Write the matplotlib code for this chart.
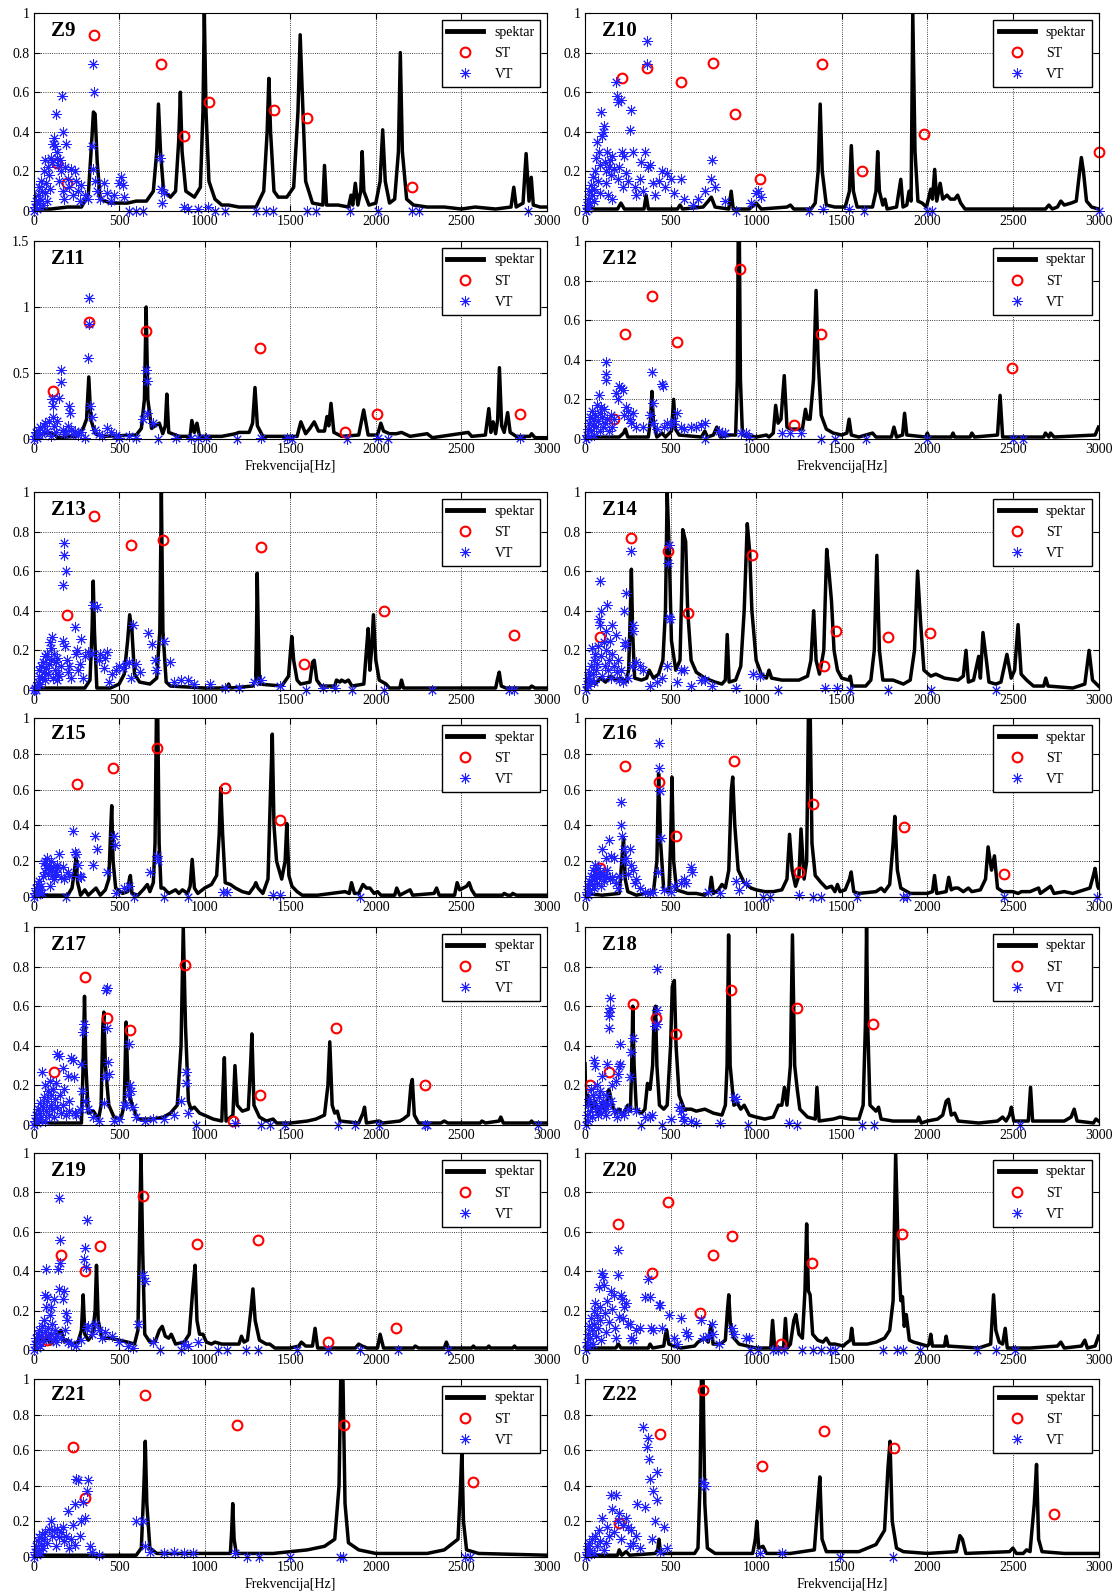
import matplotlib.pyplot as plt
from matplotlib.ticker import MultipleLocator, FuncFormatter

plt.rcParams['font.family'] = ['Liberation Serif', 'DejaVu Serif']

# spectrum vertices (Hz, amplitude), ST and VT points, one set per panel
z9_spec = [(0,0.10),(15,0.01),(100,0.01),(200,0.02),(280,0.02),(320,0.08),(340,0.35),(350,0.50),(360,0.49),(372,0.25),(390,0.06),(450,0.04),(550,0.04),(600,0.05),(660,0.05),(700,0.1),(720,0.3),(730,0.54),(742,0.3),(760,0.1),(800,0.07),(830,0.1),(848,0.35),(858,0.60),(868,0.3),(890,0.1),(940,0.07),(975,0.12),(990,0.5),(998,1.0),(1008,0.5),(1025,0.15),(1060,0.06),(1100,0.03),(1140,0.03),(1200,0.02),(1300,0.02),(1345,0.1),(1365,0.4),(1375,0.67),(1385,0.4),(1405,0.1),(1430,0.07),(1480,0.07),(1520,0.12),(1545,0.5),(1558,0.89),(1570,0.6),(1590,0.15),(1630,0.04),(1690,0.03),(1700,0.23),(1712,0.03),(1780,0.03),(1840,0.02),(1855,0.08),(1865,0.03),(1880,0.14),(1895,0.03),(1912,0.1),(1920,0.30),(1930,0.1),(1960,0.03),(2000,0.04),(2025,0.15),(2040,0.41),(2055,0.15),(2080,0.04),(2110,0.06),(2132,0.3),(2143,0.80),(2155,0.3),(2180,0.06),(2220,0.03),(2300,0.02),(2400,0.02),(2500,0.01),(2580,0.02),(2700,0.01),(2790,0.02),(2806,0.12),(2820,0.02),(2860,0.04),(2878,0.29),(2895,0.05),(2908,0.17),(2920,0.03),(2960,0.02),(3000,0.02)]
z9_st = [(138,0.24),(196,0.14),(355,0.89),(743,0.74),(879,0.38),(1025,0.55),(1403,0.51),(1597,0.47),(2213,0.12)]
z9_vt = [(5,0.0),(10,0.02),(15,0.05),(20,0.01),(25,0.08),(30,0.04),(35,0.12),(40,0.06),(45,0.15),(50,0.1),(55,0.03),(60,0.2),(65,0.09),(70,0.26),(75,0.14),(80,0.05),(85,0.22),(90,0.18),(95,0.11),(100,0.27),(110,0.25),(115,0.34),(120,0.37),(125,0.33),(130,0.49),(135,0.3),(140,0.27),(145,0.23),(150,0.15),(155,0.26),(160,0.2),(168,0.58),(170,0.1),(175,0.4),(180,0.06),(185,0.22),(190,0.34),(200,0.16),(210,0.12),(220,0.21),(230,0.08),(240,0.2),(250,0.15),(260,0.1),(270,0.05),(280,0.13),(300,0.08),(320,0.06),(340,0.33),(345,0.21),(350,0.74),(355,0.6),(360,0.15),(370,0.1),(390,0.06),(410,0.14),(430,0.09),(450,0.05),(470,0.08),(500,0.14),(510,0.17),(520,0.13),(530,0.07),(560,0.0),(600,0.0),(640,0.0),(740,0.27),(745,0.11),(750,0.04),(760,0.09),(880,0.02),(900,0.01),(960,0.01),(1020,0.02),(1060,0.0),(1120,0.0),(1300,0.0),(1360,0.0),(1400,0.0),(1600,0.0),(1650,0.0),(1850,0.0),(2010,0.0),(2210,0.0),(2250,0.0),(2890,0.0)]

z10_spec = [(0,0.02),(50,0.01),(190,0.01),(210,0.04),(230,0.01),(345,0.01),(357,0.08),(370,0.01),(540,0.01),(555,0.03),(570,0.01),(690,0.02),(720,0.05),(738,0.07),(760,0.02),(840,0.01),(854,0.10),(866,0.01),(960,0.01),(1000,0.04),(1030,0.01),(1180,0.02),(1200,0.03),(1220,0.01),(1320,0.01),(1345,0.04),(1362,0.2),(1374,0.54),(1386,0.2),(1410,0.03),(1460,0.02),(1520,0.02),(1545,0.1),(1556,0.33),(1568,0.1),(1590,0.02),(1680,0.02),(1700,0.1),(1710,0.30),(1720,0.1),(1740,0.03),(1752,0.06),(1765,0.01),(1820,0.02),(1845,0.16),(1858,0.02),(1880,0.03),(1893,0.1),(1905,0.05),(1915,1.0),(1928,0.3),(1945,0.05),(1970,0.04),(1995,0.02),(2020,0.11),(2030,0.06),(2043,0.21),(2055,0.05),(2075,0.14),(2090,0.06),(2115,0.08),(2135,0.06),(2160,0.06),(2177,0.08),(2195,0.04),(2220,0.01),(2500,0.01),(2690,0.01),(2710,0.03),(2730,0.01),(2760,0.02),(2780,0.05),(2800,0.03),(2840,0.04),(2870,0.05),(2890,0.2),(2900,0.27),(2912,0.2),(2930,0.05),(2960,0.02),(3000,0.01)]
z10_st = [(214,0.67),(363,0.72),(560,0.65),(745,0.75),(875,0.49),(1022,0.16),(1384,0.74),(1620,0.2),(1978,0.39),(3000,0.30)]
z10_vt = [(5,0.0),(10,0.03),(15,0.06),(20,0.01),(25,0.1),(30,0.04),(35,0.13),(40,0.08),(45,0.17),(50,0.11),(55,0.05),(60,0.2),(65,0.27),(70,0.35),(75,0.15),(80,0.3),(85,0.09),(90,0.23),(95,0.5),(100,0.38),(105,0.4),(110,0.43),(115,0.25),(120,0.2),(125,0.14),(130,0.3),(135,0.08),(140,0.22),(145,0.26),(150,0.18),(155,0.06),(160,0.28),(170,0.21),(180,0.65),(185,0.58),(190,0.55),(195,0.16),(200,0.22),(210,0.56),(215,0.3),(220,0.12),(230,0.28),(240,0.19),(250,0.15),(260,0.41),(270,0.51),(280,0.3),(290,0.12),(300,0.08),(320,0.16),(330,0.25),(340,0.1),(350,0.3),(360,0.86),(362,0.74),(370,0.22),(380,0.23),(400,0.14),(410,0.08),(430,0.15),(450,0.2),(470,0.12),(480,0.19),(500,0.16),(520,0.09),(560,0.16),(580,0.06),(630,0.03),(660,0.06),(700,0.1),(740,0.26),(735,0.16),(760,0.12),(820,0.05),(880,0.0),(970,0.04),(1000,0.09),(1010,0.1),(1030,0.07),(1310,0.0),(1390,0.01),(1540,0.01),(1630,0.0),(2000,0.0),(2030,0.0),(3000,0.0)]

z11_spec = [(0,0.03),(20,0.01),(30,0.04),(120,0.04),(140,0.01),(250,0.02),(290,0.08),(310,0.15),(323,0.47),(335,0.15),(360,0.04),(400,0.02),(600,0.03),(630,0.08),(648,0.3),(658,1.0),(668,0.3),(690,0.08),(720,0.11),(735,0.12),(755,0.04),(770,0.1),(779,0.34),(790,0.05),(850,0.02),(915,0.02),(925,0.14),(940,0.05),(955,0.12),(970,0.02),(1100,0.02),(1180,0.04),(1200,0.05),(1260,0.05),(1280,0.12),(1294,0.39),(1308,0.1),(1340,0.02),(1540,0.02),(1562,0.13),(1590,0.04),(1615,0.08),(1640,0.13),(1665,0.06),(1700,0.06),(1715,0.17),(1725,0.1),(1738,0.27),(1755,0.05),(1800,0.02),(1900,0.03),(1929,0.22),(1955,0.03),(2010,0.03),(2029,0.12),(2045,0.06),(2080,0.04),(2120,0.04),(2150,0.05),(2200,0.02),(2300,0.04),(2330,0.01),(2540,0.05),(2560,0.02),(2640,0.03),(2660,0.23),(2672,0.05),(2685,0.13),(2700,0.04),(2712,0.15),(2722,0.54),(2735,0.1),(2750,0.05),(2770,0.2),(2785,0.05),(2820,0.02),(2900,0.02),(2910,0.04),(2930,0.01),(3000,0.01)]
z11_st = [(115,0.36),(326,0.89),(660,0.82),(1321,0.69),(1822,0.05),(2006,0.19),(2840,0.19)]
z11_vt = [(5,0.0),(10,0.02),(15,0.05),(20,0.01),(25,0.07),(30,0.03),(40,0.09),(50,0.04),(60,0.1),(70,0.12),(80,0.06),(90,0.14),(100,0.02),(110,0.3),(112,0.25),(115,0.17),(120,0.1),(130,0.05),(140,0.14),(150,0.31),(160,0.52),(162,0.43),(170,0.07),(180,0.04),(190,0.06),(200,0.1),(210,0.25),(212,0.2),(220,0.07),(230,0.04),(240,0.06),(260,0.03),(280,0.05),(300,0.01),(325,1.07),(327,0.87),(320,0.61),(330,0.25),(340,0.17),(360,0.07),(380,0.04),(400,0.02),(430,0.08),(450,0.05),(480,0.03),(500,0.01),(560,0.02),(600,0.01),(640,0.15),(660,0.52),(662,0.44),(665,0.2),(700,0.12),(730,0.0),(830,0.01),(920,0.01),(960,0.01),(1010,0.01),(1190,0.0),(1330,0.01),(1480,0.01),(1510,0.0),(1830,0.0),(2010,0.01),(2070,0.0),(2840,0.01)]

z12_spec = [(0,0.01),(200,0.01),(225,0.03),(236,0.05),(250,0.01),(370,0.01),(383,0.1),(391,0.24),(400,0.08),(420,0.01),(450,0.03),(470,0.01),(505,0.04),(518,0.2),(528,0.05),(550,0.02),(680,0.01),(700,0.04),(715,0.01),(750,0.02),(770,0.06),(790,0.01),(850,0.02),(880,0.02),(890,0.3),(895,1.0),(902,1.0),(908,0.3),(920,0.02),(1000,0.01),(1060,0.02),(1075,0.01),(1100,0.03),(1114,0.17),(1128,0.08),(1145,0.1),(1164,0.32),(1180,0.06),(1200,0.05),(1240,0.05),(1270,0.05),(1288,0.15),(1300,0.1),(1315,0.1),(1335,0.3),(1350,0.75),(1362,0.4),(1380,0.12),(1410,0.05),(1450,0.03),(1500,0.02),(1530,0.03),(1543,0.1),(1556,0.02),(1600,0.01),(1680,0.03),(1700,0.01),(1790,0.01),(1805,0.06),(1820,0.01),(1855,0.02),(1867,0.13),(1880,0.02),(1990,0.01),(2000,0.03),(2010,0.01),(2140,0.01),(2150,0.03),(2160,0.01),(2250,0.01),(2260,0.03),(2275,0.01),(2410,0.02),(2425,0.22),(2440,0.01),(2680,0.01),(2690,0.03),(2710,0.01),(2720,0.03),(2740,0.01),(2980,0.02),(3000,0.06)]
z12_st = [(167,0.1),(236,0.53),(391,0.72),(537,0.49),(903,0.86),(1221,0.07),(1380,0.53),(2492,0.36)]
z12_vt = [(5,0.0),(10,0.02),(15,0.05),(20,0.01),(25,0.08),(30,0.11),(35,0.04),(40,0.14),(45,0.07),(50,0.1),(55,0.02),(60,0.12),(65,0.06),(70,0.17),(75,0.09),(80,0.22),(85,0.13),(90,0.04),(95,0.16),(100,0.11),(105,0.06),(110,0.15),(115,0.08),(120,0.39),(121,0.33),(122,0.3),(130,0.1),(140,0.04),(150,0.12),(160,0.06),(170,0.1),(180,0.23),(190,0.2),(200,0.27),(210,0.26),(220,0.25),(230,0.12),(240,0.16),(250,0.14),(260,0.1),(270,0.08),(280,0.13),(300,0.06),(340,0.06),(380,0.12),(390,0.34),(395,0.18),(400,0.08),(420,0.05),(450,0.28),(455,0.27),(460,0.06),(480,0.08),(500,0.07),(520,0.09),(540,0.13),(560,0.06),(580,0.05),(620,0.06),(650,0.06),(680,0.07),(700,0.08),(702,0.0),(780,0.04),(800,0.03),(820,0.03),(910,0.03),(940,0.03),(960,0.01),(1150,0.03),(1200,0.03),(1260,0.03),(1380,0.0),(1460,0.0),(1640,0.0),(2000,0.0),(2500,0.0),(2560,0.0)]

z13_spec = [(0,0.04),(15,0.01),(300,0.01),(330,0.05),(342,0.3),(349,0.55),(356,0.3),(370,0.01),(450,0.01),(500,0.03),(530,0.08),(550,0.25),(562,0.38),(575,0.3),(590,0.08),(620,0.04),(680,0.03),(720,0.06),(738,0.3),(747,1.0),(756,0.3),(775,0.04),(800,0.02),(1000,0.01),(1130,0.01),(1140,0.03),(1150,0.01),(1280,0.02),(1298,0.05),(1303,0.3),(1307,0.59),(1313,0.3),(1320,0.03),(1450,0.02),(1490,0.07),(1502,0.2),(1509,0.27),(1520,0.15),(1540,0.05),(1560,0.03),(1615,0.04),(1630,0.14),(1640,0.15),(1655,0.05),(1680,0.02),(1760,0.02),(1770,0.05),(1790,0.04),(1800,0.05),(1820,0.04),(1840,0.05),(1860,0.02),(1930,0.03),(1945,0.2),(1955,0.31),(1965,0.1),(1975,0.2),(1986,0.38),(2000,0.15),(2020,0.05),(2060,0.03),(2080,0.01),(2140,0.01),(2150,0.05),(2162,0.01),(2400,0.01),(2700,0.01),(2712,0.06),(2721,0.09),(2733,0.02),(2760,0.01),(2900,0.01),(2910,0.02),(2930,0.01),(3000,0.01)]
z13_st = [(194,0.38),(351,0.88),(570,0.73),(758,0.76),(1330,0.72),(1583,0.13),(2046,0.4),(2806,0.28)]
z13_vt = [(5,0.0),(10,0.01),(15,0.0),(20,0.02),(25,0.04),(30,0.07),(35,0.1),(40,0.03),(45,0.12),(50,0.06),(55,0.14),(60,0.09),(65,0.17),(70,0.05),(75,0.11),(80,0.18),(85,0.08),(90,0.13),(95,0.24),(100,0.21),(105,0.15),(110,0.27),(115,0.06),(120,0.18),(125,0.1),(130,0.14),(135,0.05),(140,0.16),(145,0.08),(150,0.07),(160,0.12),(170,0.25),(175,0.53),(178,0.74),(180,0.68),(185,0.22),(190,0.6),(195,0.15),(200,0.09),(210,0.12),(220,0.06),(240,0.32),(250,0.18),(255,0.2),(260,0.1),(270,0.13),(280,0.26),(290,0.06),(300,0.17),(320,0.19),(340,0.18),(350,0.43),(370,0.42),(380,0.15),(390,0.18),(410,0.11),(420,0.16),(430,0.19),(440,0.04),(460,0.08),(480,0.1),(500,0.12),(520,0.11),(540,0.13),(560,0.14),(570,0.06),(580,0.33),(600,0.13),(620,0.09),(670,0.29),(690,0.23),(710,0.15),(715,0.1),(760,0.25),(800,0.14),(820,0.04),(860,0.05),(900,0.05),(940,0.03),(1030,0.03),(1120,0.01),(1200,0.01),(1290,0.04),(1330,0.05),(1440,0.02),(1590,0.0),(1690,0.01),(1760,0.01),(1860,0.0),(2050,0.0),(2330,0.0),(2780,0.0),(2810,0.0)]

z14_spec = [(0,0.08),(10,0.02),(30,0.05),(60,0.03),(90,0.06),(120,0.04),(150,0.07),(180,0.05),(210,0.06),(240,0.04),(255,0.1),(265,0.4),(271,0.61),(278,0.3),(290,0.06),(330,0.05),(360,0.06),(375,0.1),(400,0.06),(430,0.08),(455,0.15),(470,0.4),(480,1.0),(492,0.7),(505,0.25),(530,0.1),(555,0.15),(565,0.5),(571,0.81),(588,0.75),(600,0.4),(620,0.15),(650,0.09),(700,0.06),(760,0.04),(800,0.03),(820,0.05),(831,0.28),(842,0.04),(880,0.05),(910,0.12),(930,0.4),(948,0.84),(962,0.7),(975,0.4),(1000,0.15),(1030,0.08),(1060,0.06),(1075,0.1),(1090,0.06),(1150,0.05),(1200,0.05),(1250,0.05),(1300,0.07),(1320,0.15),(1336,0.4),(1350,0.15),(1370,0.08),(1395,0.2),(1412,0.71),(1425,0.6),(1440,0.45),(1455,0.2),(1475,0.1),(1500,0.06),(1540,0.05),(1550,0.07),(1560,0.02),(1640,0.02),(1670,0.05),(1690,0.2),(1705,0.68),(1720,0.2),(1740,0.05),(1800,0.05),(1860,0.03),(1900,0.05),(1925,0.2),(1943,0.6),(1960,0.35),(1980,0.1),(2020,0.07),(2050,0.08),(2100,0.06),(2180,0.05),(2210,0.07),(2226,0.2),(2240,0.04),(2270,0.05),(2300,0.17),(2310,0.06),(2325,0.29),(2345,0.15),(2360,0.04),(2400,0.03),(2430,0.04),(2445,0.1),(2465,0.18),(2490,0.06),(2510,0.1),(2530,0.33),(2548,0.08),(2580,0.05),(2620,0.02),(2680,0.02),(2692,0.06),(2705,0.02),(2850,0.01),(2920,0.03),(2945,0.2),(2965,0.05),(3000,0.02)]
z14_st = [(86,0.27),(271,0.77),(485,0.70),(602,0.39),(975,0.68),(1395,0.12),(1466,0.3),(1768,0.27),(2014,0.29)]
z14_vt = [(5,0.0),(10,0.03),(15,0.06),(20,0.02),(25,0.09),(30,0.05),(35,0.12),(40,0.21),(45,0.08),(50,0.15),(55,0.04),(60,0.18),(65,0.1),(70,0.13),(75,0.22),(80,0.36),(85,0.33),(90,0.55),(92,0.4),(95,0.17),(100,0.07),(110,0.24),(115,0.12),(120,0.2),(125,0.3),(130,0.43),(135,0.1),(140,0.15),(145,0.25),(150,0.06),(155,0.33),(160,0.18),(170,0.12),(180,0.28),(185,0.09),(190,0.15),(200,0.05),(210,0.1),(220,0.04),(230,0.4),(232,0.24),(235,0.22),(240,0.49),(250,0.06),(270,0.7),(272,0.12),(278,0.33),(282,0.3),(300,0.14),(320,0.12),(340,0.1),(380,0.02),(420,0.04),(450,0.06),(480,0.12),(485,0.64),(488,0.37),(490,0.73),(495,0.36),(540,0.04),(560,0.1),(580,0.1),(620,0.02),(680,0.05),(700,0.05),(740,0.02),(880,0.01),(980,0.08),(1020,0.07),(1130,0.0),(1400,0.01),(1470,0.01),(1550,0.0),(1770,0.0),(2020,0.0),(2400,0.0)]

z15_spec = [(0,0.01),(200,0.01),(225,0.05),(240,0.15),(248,0.22),(258,0.08),(275,0.01),(300,0.04),(320,0.01),(365,0.05),(390,0.01),(420,0.04),(440,0.1),(452,0.4),(457,0.51),(465,0.2),(480,0.05),(520,0.02),(550,0.03),(560,0.1),(566,0.12),(575,0.02),(610,0.01),(640,0.04),(665,0.07),(680,0.03),(700,0.08),(710,0.3),(718,1.0),(726,1.0),(734,0.3),(745,0.05),(760,0.05),(790,0.02),(830,0.04),(850,0.02),(870,0.04),(900,0.02),(915,0.06),(927,0.21),(940,0.05),(960,0.02),(1000,0.05),(1040,0.07),(1070,0.12),(1085,0.35),(1094,0.61),(1105,0.35),(1120,0.08),(1150,0.07),(1180,0.05),(1220,0.03),(1260,0.02),(1290,0.06),(1299,0.08),(1312,0.05),(1340,0.02),(1370,0.1),(1385,0.6),(1395,0.91),(1405,0.4),(1420,0.2),(1450,0.1),(1470,0.2),(1480,0.41),(1492,0.12),(1510,0.06),(1540,0.03),(1570,0.01),(1660,0.01),(1820,0.03),(1845,0.02),(1858,0.08),(1875,0.02),(1900,0.02),(1925,0.07),(1945,0.05),(1965,0.05),(1990,0.02),(2010,0.03),(2030,0.01),(2110,0.01),(2122,0.05),(2140,0.01),(2200,0.04),(2215,0.01),(2340,0.02),(2355,0.05),(2370,0.01),(2460,0.01),(2475,0.08),(2490,0.04),(2510,0.05),(2530,0.06),(2545,0.08),(2560,0.04),(2580,0.01),(2740,0.01),(2750,0.02),(2770,0.01),(2790,0.01),(2800,0.02),(2820,0.01),(3000,0.01)]
z15_st = [(255,0.63),(463,0.72),(724,0.83),(1117,0.61),(1438,0.43)]
z15_vt = [(5,0.0),(10,0.02),(15,0.05),(20,0.01),(25,0.07),(30,0.03),(35,0.09),(40,0.04),(45,0.06),(50,0.02),(55,0.12),(60,0.19),(65,0.14),(70,0.2),(75,0.16),(80,0.22),(85,0.13),(90,0.18),(95,0.06),(100,0.2),(105,0.15),(110,0.12),(115,0.17),(120,0.1),(125,0.14),(130,0.13),(135,0.16),(140,0.18),(150,0.24),(160,0.11),(170,0.17),(180,0.1),(190,0.0),(200,0.14),(210,0.12),(230,0.37),(240,0.25),(250,0.24),(260,0.18),(270,0.12),(280,0.11),(350,0.18),(360,0.34),(370,0.27),(430,0.14),(470,0.34),(475,0.29),(480,0.02),(530,0.05),(560,0.06),(590,0.0),(680,0.14),(720,0.23),(725,0.2),(760,0.0),(900,0.0),(1110,0.03),(1130,0.03),(1400,0.01),(1440,0.01),(1910,0.0)]

z16_spec = [(0,0.02),(100,0.01),(200,0.02),(215,0.2),(225,0.33),(235,0.1),(250,0.03),(300,0.01),(400,0.03),(420,0.2),(430,0.69),(442,0.3),(460,0.04),(490,0.03),(500,0.3),(508,0.67),(518,0.2),(535,0.04),(600,0.02),(650,0.02),(700,0.01),(728,0.03),(738,0.11),(750,0.02),(780,0.04),(800,0.07),(820,0.05),(840,0.15),(855,0.6),(863,0.67),(875,0.4),(895,0.15),(930,0.08),(970,0.05),(1000,0.04),(1050,0.03),(1100,0.03),(1150,0.04),(1180,0.1),(1195,0.35),(1210,0.15),(1230,0.06),(1250,0.12),(1262,0.38),(1280,0.1),(1295,0.2),(1305,1.0),(1316,1.0),(1326,0.3),(1345,0.12),(1380,0.08),(1410,0.05),(1440,0.06),(1460,0.03),(1475,0.07),(1490,0.03),(1520,0.04),(1545,0.1),(1555,0.14),(1570,0.03),(1600,0.02),(1700,0.03),(1730,0.05),(1750,0.03),(1780,0.07),(1800,0.3),(1810,0.45),(1825,0.15),(1845,0.05),(1900,0.02),(2000,0.02),(2030,0.03),(2042,0.12),(2055,0.02),(2110,0.03),(2125,0.11),(2140,0.04),(2160,0.05),(2180,0.05),(2210,0.03),(2240,0.05),(2260,0.03),(2310,0.04),(2340,0.1),(2355,0.28),(2375,0.15),(2392,0.23),(2410,0.05),(2440,0.03),(2500,0.03),(2530,0.02),(2550,0.03),(2600,0.03),(2650,0.05),(2660,0.02),(2720,0.06),(2740,0.02),(2800,0.03),(2850,0.02),(2950,0.05),(2970,0.12),(2980,0.16),(2995,0.06),(3000,0.05)]
z16_st = [(90,0.16),(231,0.73),(434,0.64),(531,0.34),(873,0.76),(1250,0.14),(1334,0.52),(1861,0.39),(2450,0.13)]
z16_vt = [(5,0.0),(10,0.03),(15,0.06),(20,0.01),(25,0.09),(30,0.04),(35,0.12),(40,0.07),(45,0.15),(50,0.1),(55,0.05),(60,0.18),(65,0.13),(70,0.08),(75,0.16),(80,0.11),(90,0.14),(95,0.06),(100,0.27),(105,0.12),(110,0.09),(120,0.22),(125,0.12),(130,0.15),(140,0.32),(145,0.1),(150,0.23),(160,0.11),(170,0.22),(180,0.08),(190,0.05),(200,0.12),(210,0.53),(212,0.4),(215,0.34),(225,0.27),(230,0.2),(240,0.22),(250,0.13),(260,0.27),(270,0.18),(280,0.15),(290,0.08),(300,0.1),(320,0.05),(350,0.03),(380,0.02),(400,0.03),(425,0.14),(430,0.72),(435,0.86),(437,0.59),(445,0.33),(460,0.04),(500,0.03),(520,0.06),(560,0.08),(580,0.1),(590,0.08),(620,0.17),(625,0.14),(720,0.03),(790,0.02),(880,0.09),(900,0.04),(940,0.08),(1040,0.0),(1080,0.0),(1250,0.01),(1330,0.0),(1380,0.0),(1590,0.0),(1860,0.0),(1880,0.0),(2450,0.0),(2990,0.0)]

z17_spec = [(0,0.02),(100,0.01),(280,0.01),(290,0.3),(298,0.65),(306,0.3),(320,0.06),(350,0.07),(380,0.03),(395,0.1),(405,0.5),(411,0.57),(420,0.3),(440,0.1),(470,0.04),(510,0.03),(530,0.1),(541,0.52),(552,0.2),(575,0.1),(610,0.03),(700,0.03),(760,0.04),(800,0.06),(840,0.1),(862,0.4),(875,1.0),(888,0.5),(905,0.12),(920,0.08),(940,0.09),(970,0.06),(1050,0.03),(1100,0.02),(1108,0.2),(1115,0.34),(1125,0.02),(1165,0.05),(1177,0.3),(1190,0.1),(1220,0.07),(1255,0.08),(1268,0.3),(1276,0.46),(1288,0.1),(1320,0.04),(1360,0.02),(1400,0.03),(1420,0.01),(1500,0.01),(1600,0.02),(1650,0.03),(1700,0.05),(1720,0.2),(1731,0.42),(1745,0.1),(1760,0.06),(1775,0.07),(1790,0.02),(1900,0.01),(1925,0.06),(1934,0.09),(1945,0.01),(2020,0.02),(2040,0.01),(2140,0.02),(2160,0.03),(2190,0.05),(2205,0.2),(2213,0.23),(2225,0.05),(2250,0.01),(2380,0.01),(2400,0.02),(2420,0.01),(2610,0.01),(2620,0.02),(2640,0.01),(2720,0.02),(2730,0.04),(2745,0.01),(2900,0.01),(2910,0.02),(2920,0.01),(3000,0.01)]
z17_st = [(119,0.27),(300,0.75),(432,0.54),(562,0.48),(885,0.81),(1167,0.02),(1326,0.15),(1770,0.49),(2288,0.2)]
z17_vt = [(5,0.0),(10,0.02),(15,0.05),(20,0.01),(25,0.08),(30,0.03),(35,0.06),(40,0.11),(45,0.04),(50,0.27),(55,0.09),(60,0.14),(65,0.02),(70,0.2),(75,0.07),(80,0.12),(85,0.17),(90,0.05),(95,0.22),(100,0.1),(105,0.15),(110,0.08),(115,0.18),(120,0.04),(125,0.13),(130,0.21),(135,0.09),(140,0.36),(150,0.35),(155,0.15),(160,0.06),(170,0.29),(175,0.1),(180,0.18),(190,0.05),(200,0.25),(205,0.12),(210,0.07),(220,0.34),(230,0.33),(235,0.24),(240,0.06),(250,0.05),(270,0.08),(280,0.31),(285,0.17),(290,0.47),(295,0.51),(300,0.12),(320,0.08),(350,0.04),(380,0.02),(410,0.11),(420,0.24),(425,0.68),(430,0.69),(432,0.49),(435,0.32),(440,0.26),(470,0.02),(500,0.03),(530,0.1),(540,0.1),(550,0.15),(560,0.41),(565,0.2),(570,0.17),(580,0.09),(600,0.04),(650,0.02),(700,0.03),(760,0.03),(820,0.05),(860,0.12),(890,0.27),(893,0.21),(900,0.06),(950,0.0),(1180,0.01),(1330,0.0),(1380,0.0),(1470,0.0),(1780,0.0),(1880,0.0),(2020,0.0),(2290,0.0),(2300,0.0),(2950,0.0)]

z18_spec = [(0,0.31),(5,0.1),(20,0.15),(40,0.08),(60,0.12),(80,0.06),(100,0.1),(120,0.07),(140,0.18),(160,0.1),(180,0.06),(200,0.08),(220,0.05),(250,0.1),(265,0.07),(273,0.3),(279,0.6),(287,0.3),(300,0.08),(330,0.06),(350,0.08),(365,0.21),(380,0.18),(395,0.3),(405,0.58),(412,0.6),(420,0.3),(435,0.1),(460,0.08),(480,0.1),(500,0.4),(510,0.7),(522,0.73),(532,0.4),(550,0.15),(580,0.08),(620,0.08),(650,0.07),(700,0.08),(750,0.06),(800,0.05),(820,0.1),(830,0.3),(839,0.96),(848,0.3),(870,0.1),(890,0.11),(910,0.08),(930,0.1),(960,0.05),(1000,0.04),(1050,0.03),(1100,0.04),(1130,0.1),(1150,0.1),(1165,0.19),(1180,0.1),(1200,0.3),(1212,0.96),(1225,0.3),(1240,0.18),(1255,0.08),(1300,0.04),(1345,0.03),(1355,0.19),(1368,0.02),(1450,0.03),(1490,0.04),(1550,0.03),(1600,0.03),(1625,0.1),(1638,0.5),(1645,1.0),(1652,0.5),(1665,0.1),(1700,0.07),(1715,0.09),(1730,0.03),(1800,0.02),(1850,0.02),(1940,0.02),(1950,0.04),(1965,0.01),(2000,0.02),(2060,0.03),(2090,0.05),(2110,0.12),(2123,0.13),(2140,0.05),(2160,0.06),(2180,0.02),(2300,0.01),(2410,0.02),(2440,0.04),(2460,0.02),(2480,0.05),(2491,0.09),(2505,0.02),(2590,0.02),(2603,0.19),(2615,0.02),(2800,0.02),(2840,0.04),(2858,0.08),(2875,0.02),(2970,0.01),(2985,0.03),(3000,0.02)]
z18_st = [(31,0.2),(138,0.27),(282,0.61),(416,0.54),(531,0.46),(851,0.68),(1237,0.59),(1685,0.51)]
z18_vt = [(5,0.0),(10,0.05),(15,0.1),(20,0.02),(25,0.13),(30,0.07),(35,0.18),(40,0.04),(45,0.15),(50,0.33),(55,0.11),(60,0.3),(65,0.08),(70,0.2),(75,0.05),(80,0.14),(85,0.09),(90,0.17),(95,0.06),(100,0.25),(105,0.12),(110,0.1),(115,0.08),(120,0.15),(125,0.05),(130,0.31),(135,0.1),(138,0.49),(140,0.55),(142,0.57),(144,0.59),(146,0.64),(150,0.12),(160,0.2),(170,0.07),(180,0.22),(185,0.04),(190,0.26),(200,0.3),(202,0.31),(205,0.41),(210,0.06),(230,0.05),(250,0.08),(260,0.24),(270,0.37),(280,0.44),(300,0.07),(330,0.0),(350,0.04),(380,0.04),(390,0.05),(410,0.5),(418,0.51),(420,0.58),(422,0.79),(450,0.0),(500,0.03),(550,0.09),(560,0.07),(570,0.04),(580,0.02),(620,0.02),(650,0.01),(790,0.01),(870,0.14),(880,0.13),(950,0.0),(1190,0.01),(1240,0.0),(1620,0.0),(1690,0.0),(2540,0.0)]

z19_spec = [(0,0.05),(20,0.03),(40,0.07),(60,0.04),(80,0.06),(100,0.03),(120,0.05),(140,0.08),(160,0.1),(180,0.04),(200,0.05),(230,0.03),(260,0.04),(280,0.1),(290,0.28),(300,0.08),(320,0.05),(345,0.08),(360,0.2),(368,0.43),(378,0.15),(400,0.06),(450,0.06),(500,0.05),(550,0.04),(590,0.03),(610,0.1),(620,0.6),(628,1.0),(638,0.5),(650,0.08),(680,0.04),(710,0.04),(735,0.1),(752,0.12),(770,0.07),(790,0.06),(805,0.08),(830,0.03),(880,0.04),(910,0.08),(930,0.3),(944,0.43),(955,0.15),(970,0.08),(990,0.08),(1010,0.04),(1040,0.03),(1060,0.04),(1100,0.03),(1200,0.03),(1215,0.07),(1230,0.04),(1250,0.05),(1270,0.2),(1282,0.31),(1295,0.15),(1320,0.05),(1360,0.03),(1380,0.03),(1410,0.01),(1500,0.01),(1550,0.02),(1565,0.04),(1590,0.02),(1630,0.02),(1645,0.11),(1660,0.01),(1880,0.01),(1900,0.03),(1920,0.02),(1950,0.01),(2010,0.01),(2025,0.08),(2045,0.01),(2220,0.01),(2230,0.02),(2250,0.01),(2300,0.01),(2400,0.01),(2412,0.04),(2425,0.01),(2560,0.01),(2570,0.02),(2580,0.01),(2650,0.01),(2660,0.02),(2670,0.01),(2800,0.01),(2810,0.02),(2820,0.01),(3000,0.01)]
z19_st = [(77,0.05),(161,0.48),(303,0.4),(388,0.53),(639,0.78),(958,0.54),(1309,0.56),(1718,0.04),(2119,0.11)]
z19_vt = [(5,0.0),(10,0.03),(15,0.06),(20,0.01),(25,0.08),(30,0.04),(35,0.1),(40,0.02),(45,0.07),(50,0.12),(55,0.05),(60,0.15),(65,0.09),(70,0.28),(72,0.41),(75,0.22),(80,0.27),(85,0.11),(90,0.06),(95,0.18),(100,0.22),(105,0.08),(110,0.13),(115,0.05),(120,0.26),(125,0.1),(130,0.04),(140,0.07),(145,0.41),(148,0.31),(150,0.77),(152,0.56),(155,0.44),(160,0.06),(170,0.26),(180,0.3),(185,0.1),(190,0.19),(195,0.15),(200,0.04),(220,0.03),(250,0.02),(280,0.05),(295,0.46),(300,0.52),(305,0.42),(310,0.66),(315,0.11),(320,0.12),(340,0.08),(360,0.13),(380,0.1),(400,0.06),(420,0.09),(460,0.07),(500,0.04),(550,0.02),(580,0.01),(610,0.13),(640,0.38),(650,0.35),(700,0.04),(740,0.0),(860,0.0),(880,0.03),(900,0.02),(960,0.04),(1080,0.0),(1130,0.0),(1240,0.0),(1310,0.0),(1540,0.0),(1720,0.0),(1910,0.0),(2130,0.0),(2420,0.0)]

z20_spec = [(0,0.01),(180,0.01),(195,0.03),(210,0.01),(370,0.01),(380,0.03),(395,0.01),(460,0.02),(470,0.08),(477,0.1),(490,0.03),(520,0.02),(560,0.01),(640,0.02),(660,0.04),(700,0.06),(720,0.04),(730,0.1),(738,0.13),(748,0.03),(790,0.03),(820,0.05),(832,0.2),(840,0.28),(850,0.12),(870,0.06),(900,0.03),(950,0.02),(1000,0.01),(1085,0.01),(1096,0.15),(1108,0.01),(1160,0.01),(1171,0.16),(1182,0.01),(1200,0.03),(1220,0.15),(1232,0.18),(1250,0.08),(1270,0.06),(1285,0.3),(1295,0.64),(1305,0.3),(1315,0.28),(1330,0.08),(1360,0.05),(1390,0.04),(1410,0.06),(1430,0.03),(1460,0.03),(1510,0.02),(1520,0.03),(1550,0.05),(1558,0.11),(1570,0.03),(1600,0.03),(1650,0.03),(1700,0.04),(1750,0.06),(1780,0.1),(1800,0.25),(1815,1.0),(1830,0.5),(1845,0.25),(1855,0.27),(1865,0.12),(1877,0.18),(1895,0.05),(1920,0.04),(2000,0.02),(2010,0.03),(2020,0.08),(2030,0.02),(2100,0.02),(2110,0.07),(2120,0.02),(2300,0.01),(2370,0.03),(2387,0.28),(2400,0.1),(2420,0.04),(2440,0.03),(2455,0.11),(2467,0.01),(2600,0.01),(2760,0.02),(2780,0.04),(2800,0.01),(2900,0.02),(2920,0.05),(2935,0.01),(2980,0.02),(3000,0.07)]
z20_st = [(192,0.64),(391,0.39),(485,0.75),(673,0.19),(746,0.48),(857,0.58),(1145,0.03),(1328,0.44),(1852,0.59)]
z20_vt = [(5,0.0),(10,0.04),(15,0.08),(20,0.02),(25,0.12),(30,0.06),(35,0.16),(40,0.1),(45,0.03),(50,0.2),(55,0.13),(60,0.24),(65,0.07),(70,0.18),(75,0.11),(80,0.32),(85,0.15),(90,0.22),(95,0.05),(100,0.39),(103,0.37),(110,0.33),(115,0.19),(120,0.09),(130,0.25),(140,0.14),(150,0.3),(160,0.21),(170,0.28),(175,0.11),(180,0.06),(190,0.51),(192,0.38),(200,0.17),(210,0.28),(215,0.26),(220,0.16),(230,0.22),(240,0.24),(250,0.13),(260,0.13),(270,0.06),(280,0.05),(300,0.1),(320,0.11),(350,0.27),(370,0.36),(380,0.27),(385,0.11),(400,0.1),(430,0.23),(440,0.23),(450,0.11),(490,0.18),(520,0.06),(540,0.03),(560,0.16),(590,0.09),(600,0.07),(680,0.15),(690,0.06),(720,0.07),(740,0.13),(750,0.08),(780,0.03),(860,0.11),(870,0.08),(940,0.06),(960,0.06),(965,0.0),(1010,0.0),(1100,0.0),(1130,0.0),(1160,0.0),(1270,0.0),(1330,0.0),(1380,0.0),(1430,0.0),(1460,0.0),(1740,0.0),(1820,0.0),(1860,0.0),(1960,0.0),(2290,0.0),(2400,0.0),(2510,0.0)]

z21_spec = [(0,0.06),(15,0.01),(600,0.01),(630,0.05),(645,0.4),(653,0.65),(662,0.3),(680,0.05),(720,0.02),(900,0.02),(1150,0.02),(1158,0.15),(1164,0.3),(1172,0.1),(1185,0.02),(1400,0.02),(1600,0.04),(1700,0.06),(1760,0.1),(1785,0.4),(1795,1.0),(1808,1.0),(1820,0.3),(1840,0.08),(1900,0.04),(2000,0.02),(2300,0.02),(2400,0.04),(2480,0.1),(2495,0.4),(2503,0.6),(2512,0.2),(2530,0.04),(2600,0.02),(3000,0.01)]
z21_st = [(232,0.62),(300,0.33),(653,0.91),(1188,0.74),(1812,0.74),(2570,0.42)]
z21_vt = [(5,0.0),(10,0.03),(15,0.06),(20,0.01),(25,0.09),(30,0.04),(35,0.11),(40,0.02),(45,0.07),(50,0.13),(55,0.05),(60,0.1),(70,0.14),(80,0.08),(90,0.16),(100,0.2),(110,0.12),(120,0.15),(130,0.06),(140,0.16),(150,0.11),(160,0.14),(170,0.17),(180,0.09),(190,0.12),(200,0.26),(210,0.05),(220,0.1),(230,0.18),(240,0.3),(245,0.07),(250,0.44),(260,0.43),(270,0.12),(280,0.2),(290,0.31),(300,0.22),(310,0.37),(320,0.43),(330,0.06),(340,0.03),(380,0.01),(600,0.2),(640,0.2),(650,0.06),(680,0.03),(760,0.02),(820,0.03),(880,0.02),(930,0.02),(1180,0.02),(1250,0.0),(1320,0.0),(1500,0.0),(1790,0.0),(1810,0.0),(2520,0.0),(2550,0.0)]

z22_spec = [(0,0.02),(20,0.06),(40,0.01),(190,0.01),(200,0.04),(215,0.01),(240,0.03),(260,0.01),(410,0.02),(425,0.04),(432,0.1),(442,0.02),(500,0.02),(640,0.02),(660,0.05),(672,0.4),(680,1.0),(690,1.0),(700,0.3),(715,0.05),(760,0.02),(980,0.02),(995,0.1),(1004,0.2),(1015,0.05),(1040,0.06),(1060,0.02),(1200,0.02),(1340,0.04),(1360,0.3),(1372,0.45),(1385,0.1),(1410,0.03),(1600,0.03),(1700,0.07),(1750,0.15),(1770,0.5),(1782,0.65),(1795,0.2),(1820,0.05),(1860,0.03),(2000,0.02),(2170,0.03),(2190,0.12),(2205,0.1),(2225,0.02),(2480,0.03),(2500,0.05),(2520,0.02),(2560,0.02),(2580,0.04),(2600,0.03),(2625,0.3),(2638,0.52),(2650,0.1),(2670,0.03),(2800,0.02),(3000,0.02)]
z22_st = [(196,0.19),(440,0.69),(689,0.94),(1034,0.51),(1396,0.71),(1806,0.61),(2739,0.24)]
z22_vt = [(5,0.0),(10,0.03),(15,0.06),(20,0.01),(25,0.08),(30,0.04),(40,0.1),(50,0.02),(60,0.12),(70,0.06),(80,0.15),(90,0.09),(100,0.22),(110,0.04),(120,0.08),(130,0.17),(140,0.12),(150,0.35),(160,0.27),(170,0.14),(180,0.35),(190,0.2),(200,0.25),(210,0.1),(220,0.18),(240,0.22),(250,0.17),(260,0.06),(270,0.15),(280,0.08),(300,0.12),(302,0.3),(320,0.05),(340,0.73),(350,0.28),(360,0.62),(370,0.67),(372,0.55),(380,0.44),(390,0.1),(400,0.37),(410,0.2),(420,0.48),(422,0.32),(440,0.03),(460,0.17),(480,0.05),(690,0.42),(700,0.4),(1020,0.02),(1150,0.02),(1490,0.0),(1800,0.0)]

panels = [
    ('Z9', z9_spec, z9_st, z9_vt, 1.0), ('Z10', z10_spec, z10_st, z10_vt, 1.0),
    ('Z11', z11_spec, z11_st, z11_vt, 1.5), ('Z12', z12_spec, z12_st, z12_vt, 1.0),
    ('Z13', z13_spec, z13_st, z13_vt, 1.0), ('Z14', z14_spec, z14_st, z14_vt, 1.0),
    ('Z15', z15_spec, z15_st, z15_vt, 1.0), ('Z16', z16_spec, z16_st, z16_vt, 1.0),
    ('Z17', z17_spec, z17_st, z17_vt, 1.0), ('Z18', z18_spec, z18_st, z18_vt, 1.0),
    ('Z19', z19_spec, z19_st, z19_vt, 1.0), ('Z20', z20_spec, z20_st, z20_vt, 1.0),
    ('Z21', z21_spec, z21_st, z21_vt, 1.0), ('Z22', z22_spec, z22_st, z22_vt, 1.0),
]

W, H = 1118.0, 1593.0
fig = plt.figure(figsize=(W / 100, H / 100), dpi=100)
col_left = [33.5, 585.0]
col_w = 513.5
rows = [(13, 211), (241, 439), (492, 690), (718, 897), (927, 1125), (1153, 1350), (1379, 1557)]

for i, (name, spec, st, vt, ymax) in enumerate(panels):
    r, c = divmod(i, 2)
    top, bot = rows[r]
    ax = fig.add_axes([col_left[c] / W, 1 - bot / H, col_w / W, (bot - top) / H])
    ax.set_axisbelow(True)

    f, a = zip(*spec)
    ax.plot(f, a, color='black', lw=2.5, label='spektar')
    f, a = zip(*st)
    ax.plot(f, a, ls='none', marker='o', mfc='none', mec='red', mew=1.5, ms=7,
            label='ST', clip_on=False)
    f, a = zip(*vt)
    ax.plot(f, a, ls='none', marker=(8, 2, 0), color='#2020ff', ms=7.5, mew=0.7,
            label='VT', clip_on=False)

    ax.set_xlim(0, 3000)
    ax.set_ylim(0, ymax)
    ax.xaxis.set_major_locator(MultipleLocator(500))
    ax.yaxis.set_major_locator(MultipleLocator(0.5 if ymax > 1 else 0.2))
    ax.yaxis.set_major_formatter(FuncFormatter(lambda v, p: '%g' % round(v, 2)))
    ax.grid(True, ls=':', color='black', lw=0.6)
    ax.tick_params(direction='in', top=True, right=True, labelsize=10, length=4, pad=3)
    for s in ax.spines.values():
        s.set_linewidth(0.8)

    ax.text(0.034, 0.91, name, transform=ax.transAxes, fontsize=15,
            fontweight='bold', va='center')
    leg = ax.legend(loc='upper right', fontsize=10, handlelength=2.6,
                    fancybox=False, edgecolor='black', framealpha=1,
                    borderaxespad=0.5, labelspacing=0.6)
    leg.get_frame().set_linewidth(1.0)
    leg.get_lines()[0].set_linewidth(3.5)

    if r in (1, 6):
        ax.set_xlabel('Frekvencija[Hz]', fontsize=10, labelpad=3)

fig.savefig('out.png', dpi=100)
